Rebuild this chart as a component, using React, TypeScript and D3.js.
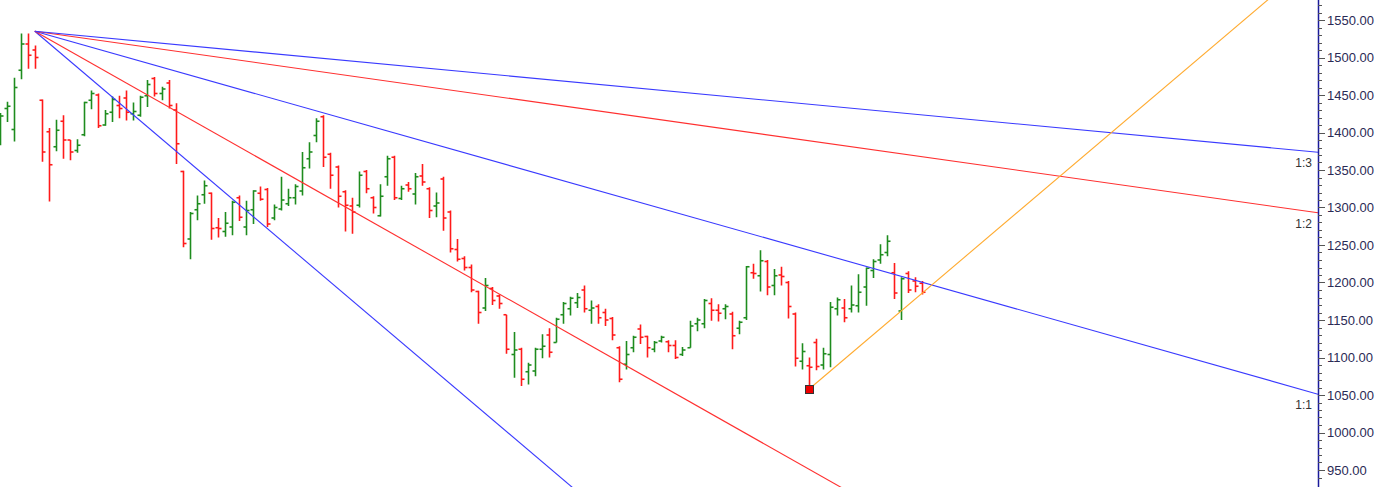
import React from "react";
import * as d3 from "d3";

const W = 1377;
const H = 487;

// OHLC values, one bar per index
const opens = [1395,1432,1404,1483,1518,1510,1443,1401,1381,1415,1390,1376,1397,1443,1450,1410,1427,1436,1446,1425,1423,1449,1472,1452,1466,1430,1348,1258,1297,1317,1319,1273,1268,1274,1313,1274,1297,1319,1324,1286,1298,1305,1313,1322,1365,1396,1421,1371,1354,1321,1302,1303,1348,1313,1289,1341,1367,1312,1330,1318,1342,1325,1302,1338,1294,1244,1232,1220,1188,1166,1192,1182,1157,1104,1111,1081,1082,1111,1130,1120,1157,1165,1173,1190,1163,1168,1160,1152,1113,1091,1113,1138,1128,1111,1122,1121,1116,1104,1113,1145,1145,1172,1163,1165,1158,1139,1153,1213,1209,1228,1196,1210,1200,1158,1095,1089,1120,1090,1104,1165,1166,1165,1169,1194,1216,1230,1240,1213,1162,1212,1202,1199];
const highs = [1426,1441,1473,1532,1532,1516,1444,1406,1417,1423,1390,1391,1441,1456,1452,1430,1448,1449,1456,1440,1449,1470,1474,1461,1470,1439,1349,1294,1316,1336,1320,1286,1294,1309,1316,1309,1323,1328,1326,1304,1341,1325,1331,1374,1387,1419,1423,1373,1356,1323,1313,1348,1350,1315,1331,1369,1369,1329,1334,1346,1358,1327,1320,1341,1296,1258,1235,1224,1189,1206,1194,1184,1157,1134,1113,1093,1113,1131,1139,1153,1174,1181,1186,1196,1176,1171,1165,1154,1115,1122,1129,1144,1129,1122,1129,1123,1123,1114,1149,1153,1178,1179,1171,1171,1161,1149,1222,1225,1243,1230,1218,1221,1202,1160,1119,1100,1125,1113,1174,1180,1178,1196,1211,1220,1231,1251,1263,1226,1207,1215,1207,1202];
const lows = [1383,1414,1388,1471,1485,1485,1361,1308,1375,1365,1363,1373,1395,1431,1406,1409,1414,1419,1416,1416,1421,1434,1448,1443,1432,1358,1247,1231,1283,1305,1257,1260,1261,1263,1282,1263,1278,1309,1274,1283,1296,1302,1304,1316,1352,1387,1354,1325,1300,1268,1265,1300,1319,1292,1288,1329,1310,1310,1321,1304,1329,1286,1287,1269,1240,1228,1216,1187,1145,1162,1170,1165,1105,1073,1062,1064,1075,1099,1100,1120,1145,1156,1166,1160,1145,1145,1142,1123,1067,1084,1107,1118,1100,1107,1120,1107,1098,1102,1113,1135,1139,1149,1148,1151,1111,1131,1150,1205,1188,1183,1183,1196,1152,1088,1084,1058,1083,1084,1087,1156,1147,1160,1160,1169,1206,1225,1235,1178,1150,1186,1187,1184];
const closes = [1422,1435,1460,1518,1503,1500,1374,1357,1403,1390,1374,1383,1440,1452,1409,1425,1444,1432,1427,1428,1447,1464,1452,1458,1436,1385,1252,1292,1305,1329,1272,1272,1279,1307,1287,1296,1322,1311,1278,1300,1310,1313,1328,1353,1374,1415,1367,1343,1315,1303,1294,1343,1325,1300,1315,1365,1313,1325,1325,1341,1334,1296,1306,1286,1245,1231,1220,1190,1160,1196,1176,1172,1111,1110,1071,1090,1111,1115,1107,1151,1172,1179,1180,1165,1166,1153,1150,1130,1071,1104,1127,1127,1113,1120,1127,1116,1100,1110,1142,1150,1176,1163,1159,1168,1129,1147,1221,1212,1229,1194,1209,1208,1168,1099,1108,1087,1088,1105,1167,1177,1153,1170,1187,1219,1228,1237,1255,1186,1205,1190,1195,1187];

// Price-axis tick labels
const majorTicks = [950, 1000, 1050, 1100, 1150, 1200, 1250, 1300, 1350, 1400, 1450, 1500, 1550];

// Gann fan: anchor bar index / price and the angles
const fanAnchorIndex = 5;
const fanAnchorPrice = 1535;
const unitSlope = 2.655; // price per bar for 1:1
const fanRatios = [3, 2, 1, 0.5, 1 / 3];
const fanNames = ["3:1", "2:1", "1:1", "1:2", "1:3"];
const fanColors = ["#3a3aff", "#ff3030", "#3a3aff", "#ff3030", "#3a3aff"];

// Upward 3x line from the low
const lowIndex = 115;
const lowPrice = 1058;
const upRatio = 3;

export default function App() {
  const axisX = 1318;
  const x = d3.scaleLinear().domain([0, 131]).range([-0.4, -0.4 + 7.04 * 131]);
  const y = d3.scaleLinear().domain([950, 1550]).range([470, 20]);
  const endIdx = x.invert(axisX);

  const minor: number[] = d3.range(940, 1581, 10).filter((v) => v % 50 !== 0);

  const fanLines = fanRatios.map((r, k) => {
    const p1 = fanAnchorPrice - r * unitSlope * (endIdx - fanAnchorIndex);
    return {
      name: fanNames[k],
      color: fanColors[k],
      x1: x(fanAnchorIndex),
      y1: y(fanAnchorPrice),
      x2: axisX,
      y2: y(p1),
    };
  });

  const upEndPrice = lowPrice + upRatio * unitSlope * (endIdx - lowIndex);

  return (
    <svg
      width={W}
      height={H}
      style={{ position: "absolute", left: 0, top: 0, background: "#fff" }}
      fontFamily="Arial, 'Liberation Sans', sans-serif"
    >
      <defs>
        <clipPath id="plot">
          <rect x={0} y={0} width={axisX} height={H} />
        </clipPath>
      </defs>
      <rect x={0} y={0} width={W} height={H} fill="#fff" />
      <g clipPath="url(#plot)">
        {opens.map((o, i) => {
          const c = closes[i];
          const col = c >= o ? "#1e8c1e" : "#ff1a1a";
          const cx = Math.round(x(i)) + 0.5;
          return (
            <g key={i} stroke={col} strokeWidth={1.6}>
              <line x1={cx} x2={cx} y1={y(highs[i])} y2={y(lows[i])} />
              <line x1={cx - 3} x2={cx} y1={y(o)} y2={y(o)} />
              <line x1={cx} x2={cx + 3} y1={y(c)} y2={y(c)} />
            </g>
          );
        })}
        {fanLines.map((l) => (
          <line
            key={l.name}
            x1={l.x1}
            y1={l.y1}
            x2={l.x2}
            y2={l.y2}
            stroke={l.color}
            strokeWidth={1.1}
          />
        ))}
        <line
          x1={x(lowIndex)}
          y1={y(lowPrice)}
          x2={axisX}
          y2={y(upEndPrice)}
          stroke="#ffab30"
          strokeWidth={1.1}
        />
      </g>
      {fanLines
        .filter((l) => l.y2 < H)
        .map((l) => (
          <text
            key={"t" + l.name}
            x={axisX - 6}
            y={l.y2 + 15}
            textAnchor="end"
            fontSize={12}
            fill="#333"
          >
            {l.name}
          </text>
        ))}
      <rect
        x={Math.round(x(lowIndex)) - 3.5}
        y={y(lowPrice) - 3.5}
        width={8}
        height={8}
        fill="#ee0000"
        stroke="#333"
        strokeWidth={1}
      />
      <line x1={axisX + 0.5} x2={axisX + 0.5} y1={0} y2={H} stroke="#1a1a9a" strokeWidth={1.5} />
      {minor.map((v) => (
        <line key={"m" + v} x1={axisX} x2={axisX + 4} y1={Math.round(y(v)) + 0.5} y2={Math.round(y(v)) + 0.5} stroke="#555" strokeWidth={1} />
      ))}
      {majorTicks.map((v) => (
        <g key={v}>
          <line x1={axisX} x2={axisX + 7} y1={Math.round(y(v)) + 0.5} y2={Math.round(y(v)) + 0.5} stroke="#555" strokeWidth={1} />
          <text x={axisX + 9} y={y(v)} dy="0.35em" fontSize={13} fill="#2a2a55">
            {d3.format(".2f")(v)}
          </text>
        </g>
      ))}
    </svg>
  );
}
